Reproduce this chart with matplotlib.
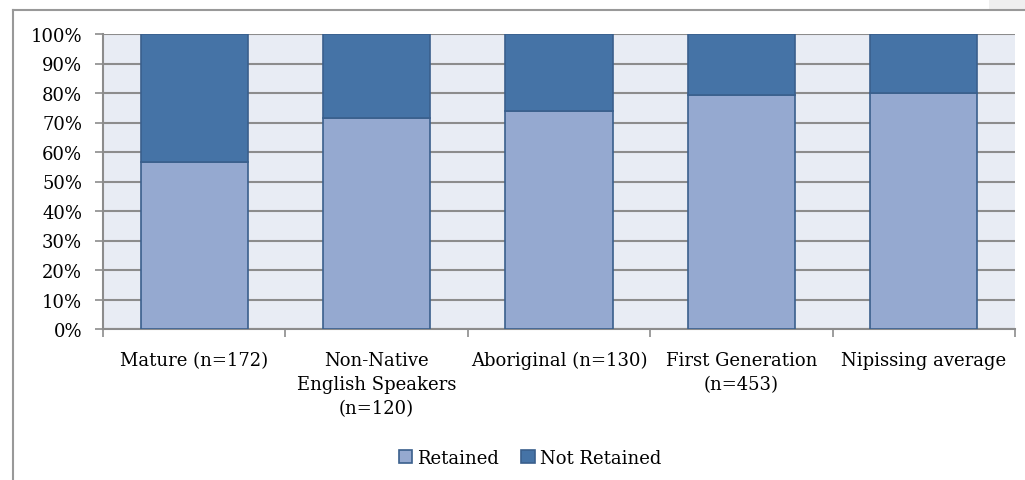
import matplotlib
matplotlib.use("Agg")
import matplotlib.pyplot as plt
from matplotlib.patches import Rectangle
from matplotlib.lines import Line2D
from matplotlib.ticker import MultipleLocator, FuncFormatter

######### DATA #########
categories = ["Mature (n=172)", "Non-Native\nEnglish Speakers\n(n=120)",
              "Aboriginal (n=130)", "First Generation\n(n=453)", "Nipissing average"]
retained = [56.7, 71.6, 73.8, 79.2, 80.1]
not_retained = [100 - r for r in retained]

######### STYLE #########
plt.rcParams['font.family'] = ['DejaVu Serif']
plt.rcParams['font.size'] = 13
light_blue = "#95A9D0"
dark_blue = "#4573A6"
edge = "#3A5F8C"
grid_gray = "#8C8C8C"

fig = plt.figure(figsize=(10.25, 4.81), dpi=100)
ax = fig.add_axes([103 / 1025, 1 - 330 / 481, 912 / 1025, 295 / 481])
ax.set_facecolor("#E8ECF4")

x = list(range(len(categories)))
ax.bar(x, retained, width=0.588, color=light_blue, edgecolor=edge, linewidth=1.2,
       label="Retained", zorder=3)
ax.bar(x, not_retained, bottom=retained, width=0.588, color=dark_blue, edgecolor=edge,
       linewidth=1.2, label="Not Retained", zorder=3)

ax.set_xlim(-0.5, len(categories) - 0.5)
ax.set_ylim(0, 100)
ax.yaxis.set_major_locator(MultipleLocator(10))
ax.yaxis.set_major_formatter(FuncFormatter(lambda v, p: "%d%%" % v))
ax.grid(axis="y", color=grid_gray, linewidth=1.5, zorder=1)
ax.set_axisbelow(True)

# category ticks sit on slot boundaries, labels in the middle
ax.set_xticks([i - 0.5 for i in range(len(categories) + 1)])
ax.set_xticklabels([])
ax.set_xticks(x, minor=True)
ax.set_xticklabels(categories, minor=True, linespacing=1.42)
ax.tick_params(axis="x", which="minor", length=0, pad=16)
ax.tick_params(axis="x", which="major", length=6, width=1.2, color=grid_gray, direction="out")
ax.tick_params(axis="y", length=6, width=1.2, color=grid_gray, direction="out", pad=9)

for side in ["top", "right"]:
    ax.spines[side].set_visible(False)
for side in ["left", "bottom"]:
    ax.spines[side].set_color(grid_gray)
    ax.spines[side].set_linewidth(1.5)

handles = [Rectangle((0, 0), 1, 1, facecolor=light_blue, edgecolor=edge, linewidth=1.2),
           Rectangle((0, 0), 1, 1, facecolor=dark_blue, edgecolor=edge, linewidth=1.2)]
fig.legend(handles, ["Retained", "Not Retained"], loc="center", bbox_to_anchor=(0.517, 0.046),
           ncol=2, frameon=False, handlelength=0.75, handleheight=0.75, handletextpad=0.3,
           columnspacing=1.2)

# outer chart frame (top and left edges visible in the crop)
fig.add_artist(Line2D([13 / 1025, 1], [1 - 11 / 481, 1 - 11 / 481], color="#999999",
                      linewidth=1.5, transform=fig.transFigure))
fig.add_artist(Line2D([13 / 1025, 13 / 1025], [0, 1 - 11 / 481], color="#999999",
                      linewidth=1.5, transform=fig.transFigure))
fig.add_artist(Rectangle((989 / 1025, 1 - 10 / 481), 36 / 1025, 10 / 481, facecolor="#EFEFEF",
                         edgecolor="none", transform=fig.transFigure))

fig.savefig("out.png", dpi=100)
